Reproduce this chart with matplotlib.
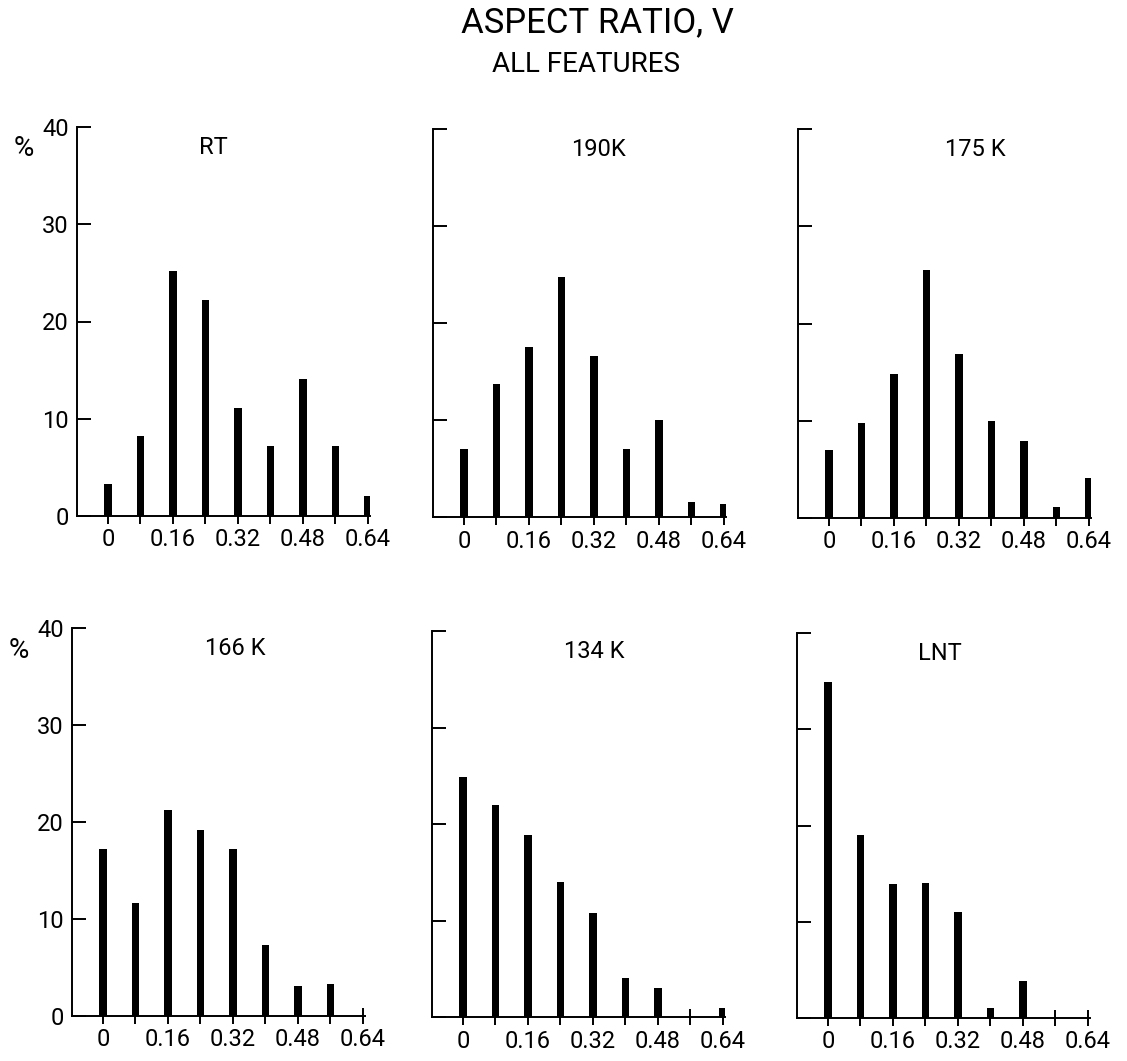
import matplotlib
matplotlib.use("Agg")
import matplotlib.pyplot as plt

plt.rcParams['font.family'] = ['Roboto', 'DejaVu Sans']

# ---- data ----
bin_centers = [0.0, 0.08, 0.16, 0.24, 0.32, 0.40, 0.48, 0.56, 0.64]
xtick_labels = ["0", "0.16", "0.32", "0.48", "0.64"]
xtick_values = [0.0, 0.16, 0.32, 0.48, 0.64]
ytick_values = [0, 10, 20, 30, 40]

panel_titles = ["RT", "190K", "175 K", "166 K", "134 K", "LNT"]
pct_RT = [3.3, 8.2, 25.2, 22.2, 11.1, 7.2, 14.1, 7.2, 2.1]
pct_190K = [7.0, 13.7, 17.5, 24.7, 16.6, 7.0, 10.0, 1.5, 1.3]
pct_175K = [7.0, 9.8, 14.8, 25.5, 16.9, 10.0, 7.9, 1.1, 4.1]
pct_166K = [17.2, 11.7, 21.2, 19.2, 17.2, 7.3, 3.1, 3.3, 0.0]
pct_134K = [24.9, 22.0, 18.9, 14.0, 10.8, 4.0, 3.0, 0.0, 0.9]
pct_LNT = [34.9, 19.0, 13.9, 14.0, 11.0, 1.0, 3.8, 0.0, 0.0]
series = [pct_RT, pct_190K, pct_175K, pct_166K, pct_134K, pct_LNT]

W, H = 1127, 1061
fig = plt.figure(figsize=(W / 100, H / 100), dpi=100)

# pixel layout: (left, top(y=40), bottom(y=0))
layout = [(77, 127, 516), (433, 129, 517), (798, 129, 518),
          (72, 628, 1016), (432, 631, 1017), (797, 633, 1018)]
title_fx = [0.465, 0.563, 0.605, 0.556, 0.554, 0.488]
width_px = 293
XMIN, XMAX = -0.076, 0.645

for i, ((lp, tp, bp), vals, title) in enumerate(zip(layout, series, panel_titles)):
    ax = fig.add_axes([lp / W, 1 - bp / H, width_px / W, (bp - tp) / H])
    ax.bar(bin_centers, vals, width=0.019, color="black", edgecolor="none", zorder=3)
    ax.set_xlim(XMIN, XMAX)
    ax.set_ylim(0, 40)
    for s in ("top", "right"):
        ax.spines[s].set_visible(False)
    for s in ("left", "bottom"):
        ax.spines[s].set_linewidth(1.4)
        ax.spines[s].set_color("black")
    ax.set_xticks(bin_centers)
    ax.set_xticklabels([xtick_labels[xtick_values.index(v)] if v in xtick_values else ""
                        for v in bin_centers])
    ax.tick_params(axis="x", direction="inout", length=12, width=1.4,
                   labelsize=17, pad=3, colors="black")
    ax.set_yticks(ytick_values)
    ax.tick_params(axis="y", direction="in", length=10, width=1.4,
                   labelsize=17, pad=6, colors="black")
    if i % 3 == 0:
        ax.set_yticklabels([str(v) for v in ytick_values])
        ax.annotate("%", xy=(0, 1), xycoords="axes fraction",
                    xytext=(-53, -22), textcoords="offset pixels",
                    ha="center", va="center", fontsize=20, color="black")
    else:
        ax.set_yticklabels([])
    ax.text(title_fx[i], 0.947, title, transform=ax.transAxes,
            ha="center", va="center", fontsize=17, color="black")
    ax.patch.set_alpha(0)

fig.text(597 / W, 1 - 23 / H, "ASPECT RATIO, V", ha="center", va="center",
         fontsize=25, color="black")
fig.text(586 / W, 1 - 65 / H, "ALL FEATURES", ha="center", va="center",
         fontsize=20, color="black")

fig.savefig("out.png", dpi=100, facecolor="white")
